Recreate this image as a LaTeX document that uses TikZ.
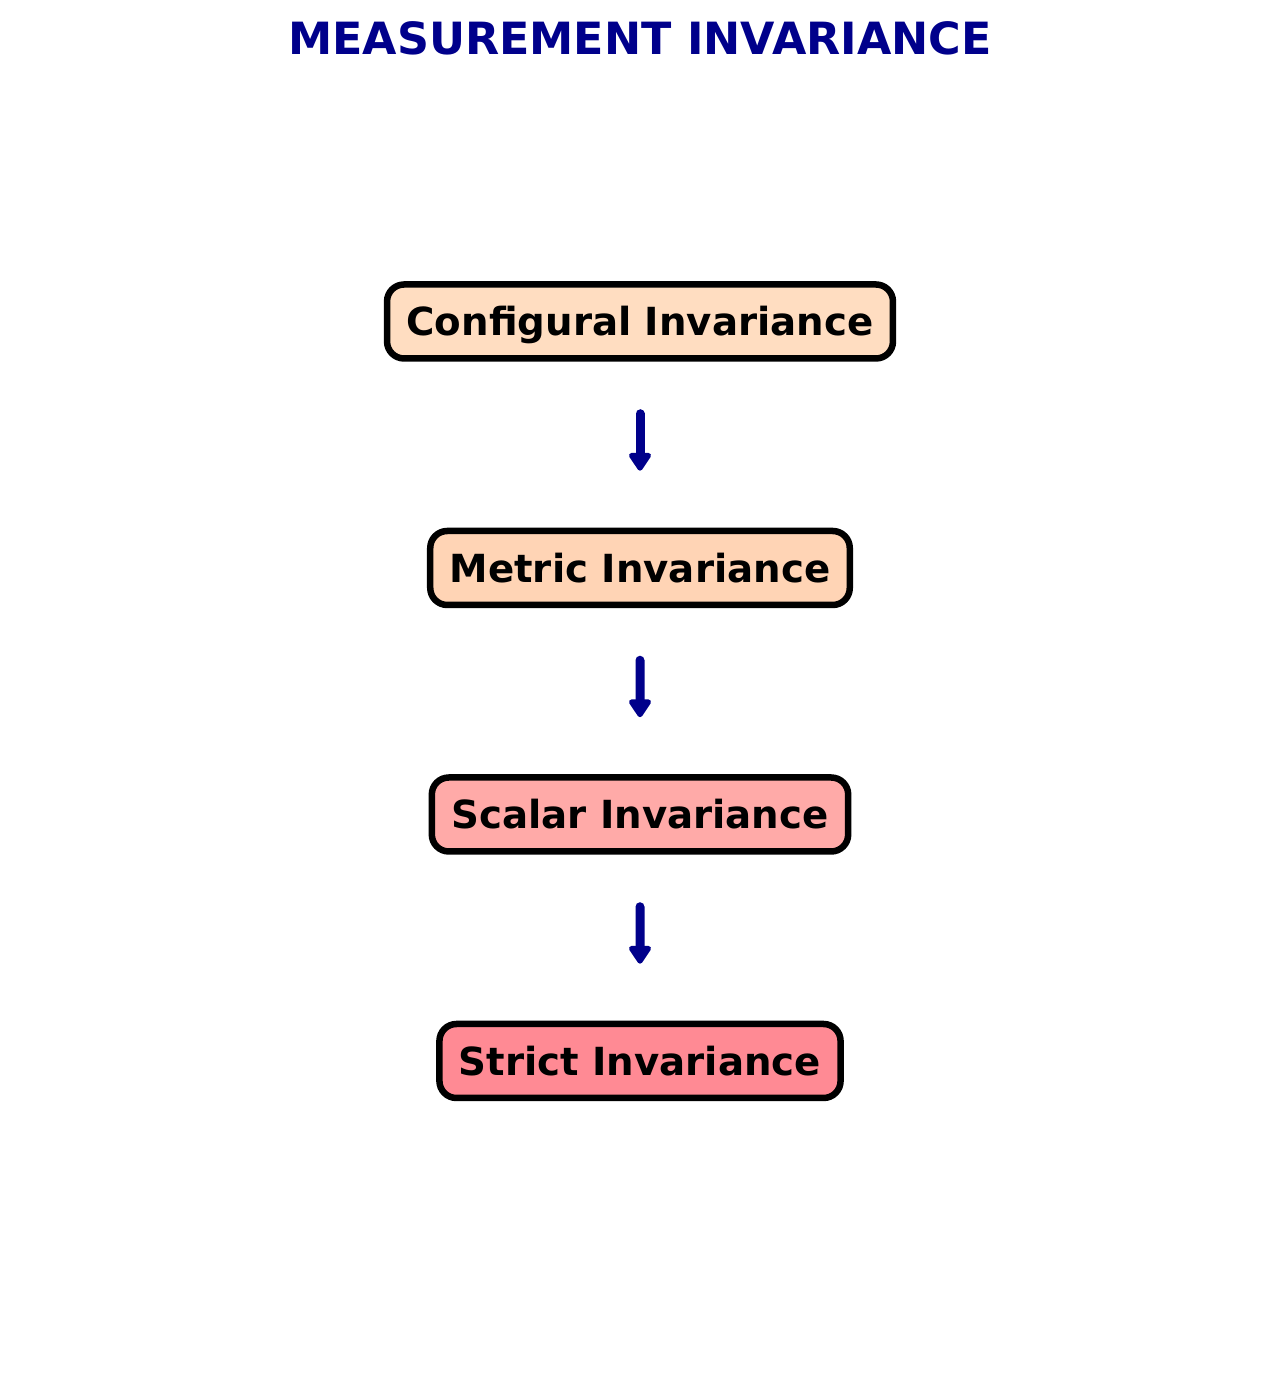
\documentclass[tikz,border=0pt]{standalone}
\usepackage{fontspec}
\setmainfont{DejaVu Sans}
\usetikzlibrary{arrows.meta}

\definecolor{titleblue}{HTML}{00008B}
\definecolor{configfill}{HTML}{FFDDC1}
\definecolor{metricfill}{HTML}{FFD4B5}
\definecolor{scalarfill}{HTML}{FFAAA8}
\definecolor{strictfill}{HTML}{FF8A94}

\begin{document}
\begin{tikzpicture}[x=1pt, y=1pt, level distance=246.5pt,
      stagebox/.style = {shape=rectangle, rounded corners=17pt,
        draw=black, line width=6.5pt, align=center,
        font=\bfseries\fontsize{38.7}{46}\selectfont,
        text height=28.2pt, text depth=0pt,
        minimum height=74pt, inner xsep=19.5pt},
      edge from parent/.style = {draw=titleblue, line width=9pt, line cap=round,
        -{Triangle[length=20pt, width=25pt, round]},
        shorten <=52pt, shorten >=57pt}]
  \useasboundingbox (0,0) rectangle (1280,1389);
  \node[font=\bfseries\fontsize{44.4}{52}\selectfont, text=titleblue, anchor=base]
    (title) at (640,1334) {MEASUREMENT INVARIANCE};
  \node[stagebox, fill=configfill] (configural) at (640,1067.5) {Configural Invariance}
    child { node[stagebox, fill=metricfill] (metric) {Metric Invariance}
      child { node[stagebox, fill=scalarfill] (scalar) {Scalar Invariance}
        child { node[stagebox, fill=strictfill] (strict) {Strict Invariance} } } };
\end{tikzpicture}
\end{document}
